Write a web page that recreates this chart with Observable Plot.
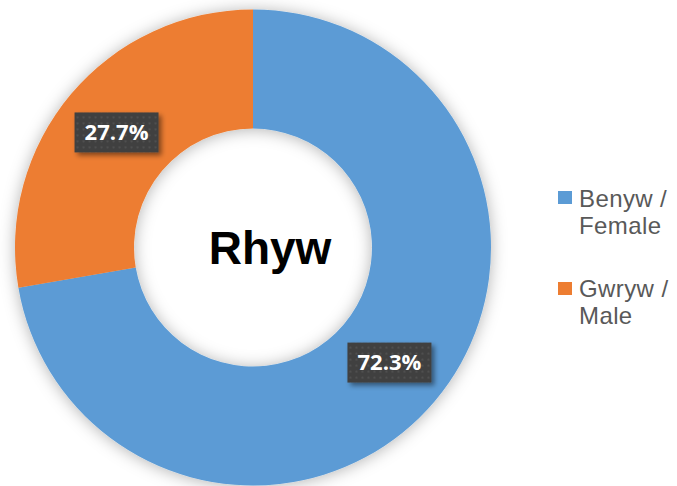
<!DOCTYPE html>
<html><head><meta charset="utf-8">
<script src="https://cdn.jsdelivr.net/npm/d3@7"></script>
<script src="https://cdn.jsdelivr.net/npm/@observablehq/plot@0.6"></script>
<style>
body{margin:0;background:#fff;}
#wrap{position:relative;width:677px;height:486px;overflow:hidden;background:#fff;}
#legend{position:absolute;left:558px;top:0;font-family:"Liberation Sans",Arial,sans-serif;font-size:24px;line-height:27px;letter-spacing:0.4px;color:#595959;}
.item{position:absolute;left:0;white-space:nowrap;}
.sw{position:absolute;left:0;width:14px;height:13px;}
.lab{position:absolute;left:21px;}
</style></head><body><div id="wrap"><div id="legend"></div></div>
<script>
const categories = ["Benyw / Female", "Gwryw / Male"];
const legendLines = [["Benyw /", "Female"], ["Gwryw /", "Male"]];
const values = [72.3, 27.7];
const valueLabels = ["72.3%", "27.7%"];
const colors = ["#5B9BD5", "#ED7D31"];
const title = "Rhyw";

const data = categories.map((c, i) => ({category: c, value: values[i], label: valueLabels[i]}));

const cx = 253, cy = 247.5, rOuter = 238, rInner = 119;

function donut(index, scales) {
  const color = scales.color || (c => colors[categories.indexOf(c)]);
  const g = d3.create("svg:g");
  const defs = g.append("defs");
  defs.append("filter").attr("id", "ringShadow")
    .attr("x", "-25%").attr("y", "-25%").attr("width", "150%").attr("height", "150%")
    .append("feDropShadow").attr("dx", 0).attr("dy", 1).attr("stdDeviation", 8)
    .attr("flood-color", "#000").attr("flood-opacity", 0.3);
  defs.append("filter").attr("id", "boxShadow")
    .attr("x", "-20%").attr("y", "-30%").attr("width", "150%").attr("height", "170%")
    .append("feDropShadow").attr("dx", 3).attr("dy", 3).attr("stdDeviation", 2.5)
    .attr("flood-color", "#000").attr("flood-opacity", 0.45);
  const pat = defs.append("pattern").attr("id", "dots").attr("patternUnits", "userSpaceOnUse")
    .attr("width", 6).attr("height", 6);
  pat.append("rect").attr("width", 6).attr("height", 6).attr("fill", "#404040");
  pat.append("circle").attr("cx", 3).attr("cy", 3).attr("r", 0.9).attr("fill", "#565656");

  const pie = d3.pie().sort(null).value(d => d.value).startAngle(0).endAngle(2 * Math.PI);
  const arcs = pie(data);
  const arc = d3.arc().innerRadius(rInner).outerRadius(rOuter);
  const ring = g.append("g").attr("transform", `translate(${cx},${cy})`).attr("filter", "url(#ringShadow)");
  ring.selectAll("path").data(arcs).join("path")
    .attr("d", arc).attr("fill", d => color(d.data.category));

  const labels = g.append("g").attr("transform", `translate(${cx},${cy})`);
  const lg = labels.selectAll("g").data(arcs).join("g")
    .attr("transform", d => { const [x, y] = arc.centroid(d); return `translate(${x},${y})`; });
  lg.append("rect").attr("x", -42).attr("y", -20).attr("width", 84).attr("height", 40)
    .attr("fill", "url(#dots)").attr("filter", "url(#boxShadow)");
  lg.append("text").attr("text-anchor", "middle").attr("dy", "0.36em")
    .attr("font-family", "'Open Sans', sans-serif").attr("font-weight", "bold")
    .attr("font-size", 22).attr("fill", "#fff").text(d => d.data.label);

  g.append("text").attr("x", cx + 17).attr("y", cy + 16).attr("text-anchor", "middle")
    .attr("font-family", "'Liberation Sans', Arial, sans-serif").attr("font-weight", "bold")
    .attr("font-size", 46).attr("fill", "#000").text(title);
  return g.node();
}

const plot = Plot.plot({
  width: 677,
  height: 486,
  margin: 0,
  style: {background: "transparent", overflow: "visible"},
  color: {domain: categories, range: colors},
  marks: [
    Plot.dot(data, {fill: "category", r: 0}),
    donut
  ]
});
document.getElementById("wrap").prepend(plot);

const cs = plot.scale("color");
const legend = d3.select("#legend");
const tops = [184.7, 275.2];
categories.forEach((c, i) => {
  const it = legend.append("div").attr("class", "item").style("top", tops[i] + "px");
  it.append("div").attr("class", "sw").style("top", "6.5px").style("background", cs.range[cs.domain.indexOf(c)]);
  const lab = it.append("div").attr("class", "lab");
  legendLines[i].forEach(t => lab.append("div").text(t));
});
</script>
</body></html>
